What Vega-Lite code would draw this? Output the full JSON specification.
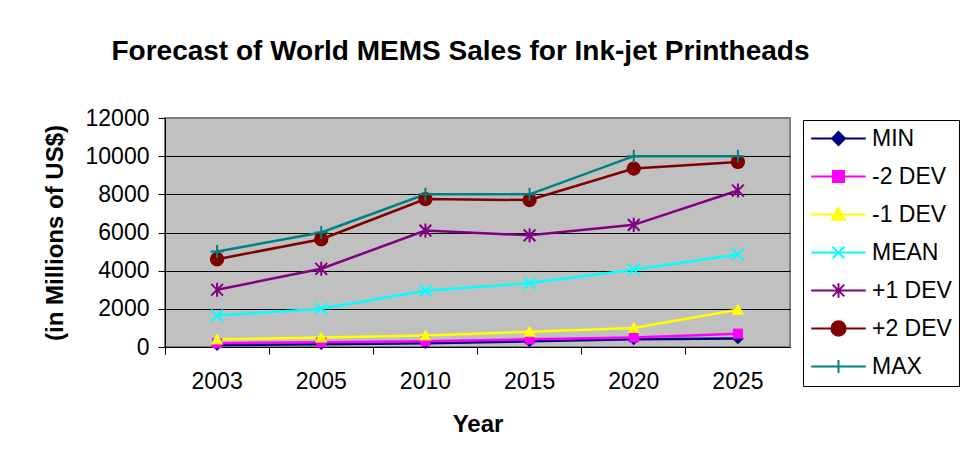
{
  "$schema": "https://vega.github.io/schema/vega-lite/v6.json",
  "width": 625,
  "height": 229,
  "autosize": {"type": "none"},
  "padding": {"left": 165, "top": 118, "right": 173, "bottom": 114},
  "background": "white",
  "title": {
    "text": "Forecast of World MEMS Sales for Ink-jet Printheads",
    "font": "Liberation Sans",
    "fontSize": 28,
    "fontWeight": "bold",
    "color": "black",
    "anchor": "middle",
    "frame": "group",
    "baseline": "alphabetic",
    "dx": -17,
    "offset": 19
  },
  "config": {
    "font": "Liberation Sans",
    "view": {"fill": "#C0C0C0", "stroke": "#808080", "strokeWidth": 2},
    "point": {"opacity": 1, "strokeWidth": 2, "size": 140}
  },
  "data": {
    "values": [
      {"year": "2003", "series": "MIN", "value": 100},
      {"year": "2005", "series": "MIN", "value": 150},
      {"year": "2010", "series": "MIN", "value": 200},
      {"year": "2015", "series": "MIN", "value": 300},
      {"year": "2020", "series": "MIN", "value": 400},
      {"year": "2025", "series": "MIN", "value": 450},
      {"year": "2003", "series": "-2 DEV", "value": 200},
      {"year": "2005", "series": "-2 DEV", "value": 250},
      {"year": "2010", "series": "-2 DEV", "value": 300},
      {"year": "2015", "series": "-2 DEV", "value": 400},
      {"year": "2020", "series": "-2 DEV", "value": 500},
      {"year": "2025", "series": "-2 DEV", "value": 700},
      {"year": "2003", "series": "-1 DEV", "value": 400},
      {"year": "2005", "series": "-1 DEV", "value": 500},
      {"year": "2010", "series": "-1 DEV", "value": 600},
      {"year": "2015", "series": "-1 DEV", "value": 800},
      {"year": "2020", "series": "-1 DEV", "value": 1000},
      {"year": "2025", "series": "-1 DEV", "value": 1950},
      {"year": "2003", "series": "MEAN", "value": 1650},
      {"year": "2005", "series": "MEAN", "value": 2000},
      {"year": "2010", "series": "MEAN", "value": 2950},
      {"year": "2015", "series": "MEAN", "value": 3350},
      {"year": "2020", "series": "MEAN", "value": 4050},
      {"year": "2025", "series": "MEAN", "value": 4850},
      {"year": "2003", "series": "+1 DEV", "value": 3000},
      {"year": "2005", "series": "+1 DEV", "value": 4100},
      {"year": "2010", "series": "+1 DEV", "value": 6100},
      {"year": "2015", "series": "+1 DEV", "value": 5850},
      {"year": "2020", "series": "+1 DEV", "value": 6400},
      {"year": "2025", "series": "+1 DEV", "value": 8200},
      {"year": "2003", "series": "+2 DEV", "value": 4600},
      {"year": "2005", "series": "+2 DEV", "value": 5650},
      {"year": "2010", "series": "+2 DEV", "value": 7750},
      {"year": "2015", "series": "+2 DEV", "value": 7700},
      {"year": "2020", "series": "+2 DEV", "value": 9350},
      {"year": "2025", "series": "+2 DEV", "value": 9700},
      {"year": "2003", "series": "MAX", "value": 5000},
      {"year": "2005", "series": "MAX", "value": 6000},
      {"year": "2010", "series": "MAX", "value": 8000},
      {"year": "2015", "series": "MAX", "value": 8000},
      {"year": "2020", "series": "MAX", "value": 10000},
      {"year": "2025", "series": "MAX", "value": 10000}
    ]
  },
  "encoding": {
    "x": {
      "field": "year",
      "type": "ordinal",
      "sort": null,
      "scale": {"type": "band", "paddingInner": 0, "paddingOuter": 0},
      "axis": {
        "title": "Year",
        "labelAngle": 0,
        "grid": false,
        "bandPosition": 0,
        "tickExtra": true,
        "tickSize": 7,
        "tickColor": "black",
        "domainColor": "black",
        "labelColor": "black",
        "labelFontSize": 23,
        "labelPadding": 16,
        "titleFontSize": 24,
        "titleFontWeight": "bold",
        "titleColor": "black",
        "titlePadding": 19
      }
    },
    "y": {
      "field": "value",
      "type": "quantitative",
      "scale": {"domain": [0, 12000], "nice": false},
      "axis": {
        "title": "(in Millions of US$)",
        "values": [0, 2000, 4000, 6000, 8000, 10000, 12000],
        "format": "d",
        "grid": true,
        "gridColor": {"condition": {"test": "datum.value === 12000", "value": "#808080"}, "value": "black"},
        "gridWidth": 1,
        "tickSize": 7,
        "tickColor": "black",
        "domainColor": "black",
        "labelColor": "black",
        "labelFontSize": 23,
        "labelPadding": 9,
        "titleFontSize": 24,
        "titleFontWeight": "bold",
        "titleColor": "black",
        "titlePadding": 18
      }
    },
    "color": {
      "field": "series",
      "type": "nominal",
      "scale": {
        "domain": ["MIN", "-2 DEV", "-1 DEV", "MEAN", "+1 DEV", "+2 DEV", "MAX"],
        "range": ["#000080", "#FF00FF", "#FFFF00", "#00FFFF", "#800080", "#800000", "#008080"]
      },
      "legend": {
        "orient": "none",
        "legendX": 638,
        "legendY": 2,
        "title": null,
        "strokeColor": "black",
        "fillColor": "white",
        "padding": 7,
        "labelFont": "Liberation Sans",
        "labelFontSize": 23,
        "labelColor": "black",
        "symbolSize": 169,
        "symbolStrokeWidth": 2,
        "symbolOffset": 17,
        "labelOffset": 22,
        "rowPadding": 14,
        "encode": {
          "symbols": {
            "update": {
              "shape": {"signal": "datum.value === 'MIN' ? 'M-4.2,0H4.2M0,-1L1,0L0,1L-1,0Z' : datum.value === '-2 DEV' ? 'M-4.2,0H4.2M-0.85,-0.85H0.85V0.85H-0.85Z' : datum.value === '-1 DEV' ? 'M-4.2,0H4.2M0,-1L1,0.8H-1Z' : datum.value === 'MEAN' ? 'M-4.2,0H4.2M-0.9,-0.9L0.9,0.9M-0.9,0.9L0.9,-0.9' : datum.value === '+1 DEV' ? 'M-4.2,0H4.2M-0.9,-0.9L0.9,0.9M-0.9,0.9L0.9,-0.9M0,-1.1V1.1' : datum.value === '+2 DEV' ? 'M-4.2,0H4.2M-1.1,0A1.1,1.1,0,1,0,1.1,0A1.1,1.1,0,1,0,-1.1,0Z' : 'M-4.2,0H4.2M0,-1V1'"},
              "fill": {"signal": "scale('color', datum.value)"},
              "stroke": {"signal": "scale('color', datum.value)"},
              "strokeWidth": {"value": 2},
              "opacity": {"value": 1}
            }
          }
        }
      }
    }
  },
  "layer": [
    {"mark": {"type": "line", "strokeWidth": 2.5}},
    {"transform": [{"filter": "datum.series === 'MIN'"}], "mark": {"type": "point", "filled": true, "shape": "M0,-1L1,0L0,1L-1,0Z"}},
    {"transform": [{"filter": "datum.series === '-2 DEV'"}], "mark": {"type": "point", "filled": true, "shape": "M-0.85,-0.85H0.85V0.85H-0.85Z"}},
    {"transform": [{"filter": "datum.series === '-1 DEV'"}], "mark": {"type": "point", "filled": true, "shape": "M0,-1.05L1.05,0.85H-1.05Z"}},
    {"transform": [{"filter": "datum.series === 'MEAN'"}], "mark": {"type": "point", "filled": false, "shape": "M-1,-1L1,1M-1,1L1,-1"}},
    {"transform": [{"filter": "datum.series === '+1 DEV'"}], "mark": {"type": "point", "filled": false, "shape": "M-1,-1L1,1M-1,1L1,-1M0,-1.2V1.2"}},
    {"transform": [{"filter": "datum.series === '+2 DEV'"}], "mark": {"type": "point", "filled": true, "shape": "M-1.2,0A1.2,1.2,0,1,0,1.2,0A1.2,1.2,0,1,0,-1.2,0Z"}},
    {"transform": [{"filter": "datum.series === 'MAX'"}], "mark": {"type": "point", "filled": false, "shape": "M-1.1,0H1.1M0,-1.1V1.1"}}
  ]
}
